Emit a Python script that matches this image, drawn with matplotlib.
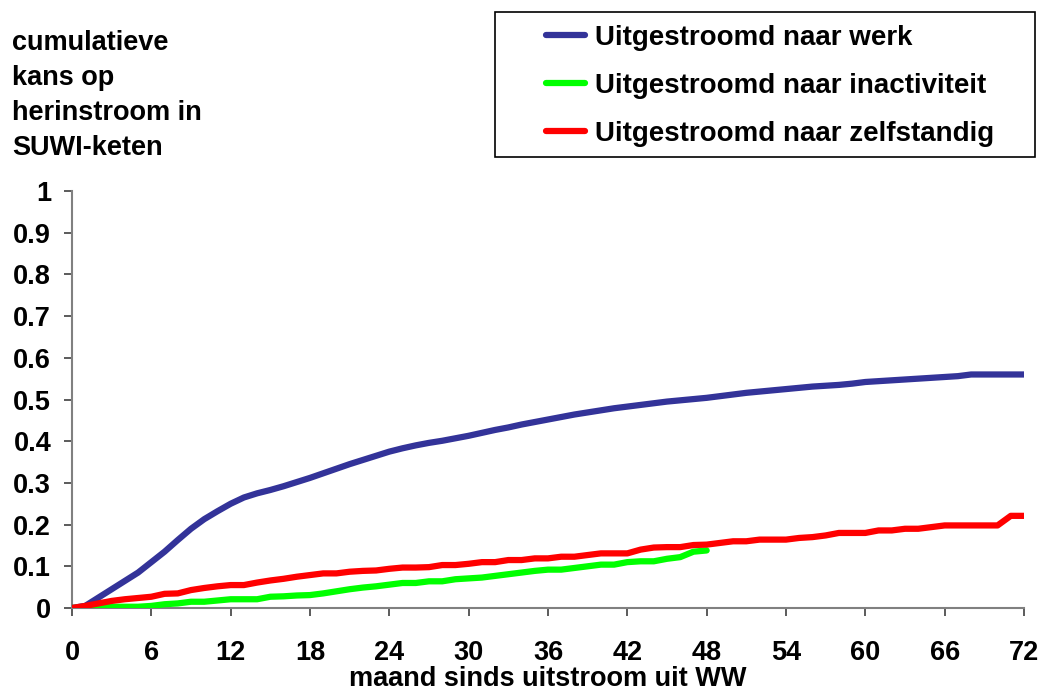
import numpy as np
import matplotlib.pyplot as plt
from matplotlib.patches import Rectangle

plt.rcParams['font.family'] = ['Liberation Sans', 'DejaVu Sans']
plt.rcParams['font.weight'] = 'bold'

# maand sinds uitstroom
months = np.arange(0, 73)
months_inact = np.arange(0, 49)

werk = [0, 0.005, 0.025, 0.045, 0.065, 0.085, 0.11, 0.135, 0.163, 0.19,
        0.213, 0.232, 0.25, 0.265, 0.275, 0.283, 0.292, 0.302, 0.312, 0.323,
        0.334, 0.345, 0.355, 0.365, 0.375, 0.383, 0.39, 0.396, 0.401, 0.407,
        0.413, 0.42, 0.427, 0.433, 0.44, 0.446, 0.452, 0.458, 0.464, 0.469,
        0.474, 0.479, 0.483, 0.487, 0.491, 0.495, 0.498, 0.501, 0.504, 0.508,
        0.512, 0.516, 0.519, 0.522, 0.525, 0.528, 0.531, 0.533, 0.535, 0.538,
        0.542, 0.544, 0.546, 0.548, 0.55, 0.552, 0.554, 0.556, 0.56, 0.56,
        0.56, 0.56, 0.56]

inactiviteit = [0, 0.001, 0.002, 0.003, 0.003, 0.003, 0.005, 0.009, 0.011, 0.015,
                0.015, 0.018, 0.021, 0.021, 0.021, 0.027, 0.028, 0.03, 0.031, 0.035,
                0.04, 0.045, 0.049, 0.052, 0.056, 0.06, 0.06, 0.064, 0.064, 0.069,
                0.071, 0.073, 0.077, 0.081, 0.085, 0.089, 0.092, 0.092, 0.096, 0.1,
                0.104, 0.104, 0.11, 0.112, 0.112, 0.118, 0.122, 0.135, 0.138]

zelfstandig = [0, 0.005, 0.011, 0.017, 0.021, 0.024, 0.027, 0.034, 0.035, 0.043,
               0.048, 0.052, 0.055, 0.055, 0.061, 0.066, 0.07, 0.075, 0.079, 0.083,
               0.083, 0.087, 0.089, 0.09, 0.094, 0.097, 0.097, 0.098, 0.103, 0.103,
               0.106, 0.11, 0.11, 0.115, 0.115, 0.119, 0.119, 0.123, 0.123, 0.127,
               0.131, 0.131, 0.131, 0.14, 0.145, 0.146, 0.146, 0.151, 0.152, 0.156,
               0.16, 0.16, 0.164, 0.164, 0.164, 0.168, 0.17, 0.174, 0.18, 0.18,
               0.18, 0.186, 0.186, 0.19, 0.19, 0.194, 0.198, 0.198, 0.198, 0.198,
               0.198, 0.221, 0.221]

x_ticks = np.arange(0, 73, 6)
y_ticks = np.round(np.arange(0, 1.01, 0.1), 1)
y_labels = ['0', '0.1', '0.2', '0.3', '0.4', '0.5', '0.6', '0.7', '0.8', '0.9', '1']

fig = plt.figure(figsize=(10.44, 6.9), dpi=100)
ax = fig.add_axes([72 / 1044, 1 - 608 / 690, 952 / 1044, 417 / 690])

ax.plot(months, werk, color='#333399', lw=4.5, label='Uitgestroomd naar werk',
        solid_capstyle='round', zorder=3)
ax.plot(months_inact, inactiviteit, color='#00ff00', lw=4.5,
        label='Uitgestroomd naar inactiviteit', solid_capstyle='round', zorder=3)
ax.plot(months, zelfstandig, color='#ff0000', lw=4.5,
        label='Uitgestroomd naar zelfstandig', solid_capstyle='round', zorder=3)

ax.set_xlim(0, 72)
ax.set_ylim(0, 1)
ax.set_xticks(x_ticks)
ax.set_yticks(y_ticks)
ax.set_yticklabels(y_labels)
for s in ['top', 'right']:
    ax.spines[s].set_visible(False)
for s in ['left', 'bottom']:
    ax.spines[s].set_color('#808080')
    ax.spines[s].set_linewidth(1.5)
ax.tick_params(axis='x', direction='out', length=6, width=1.2, color='#404040',
               labelsize=19.5, pad=17)
ax.tick_params(axis='y', direction='out', length=6, width=1.2, color='#404040',
               labelsize=19.5, pad=9)
for lbl in ax.get_xticklabels() + ax.get_yticklabels():
    lbl.set_fontweight('bold')

ax.set_xlabel('maand sinds uitstroom uit WW', fontsize=19.5, fontweight='bold',
              labelpad=0)

fig.text(12 / 1044, 1 - 30 / 690, 'cumulatieve\nkans op\nherinstroom in\nSUWI-keten',
         fontsize=19.5, fontweight='bold', va='top', ha='left', linespacing=1.45)

# legend box
fig.patches.append(Rectangle((495 / 1044, 1 - 157 / 690), 540 / 1044, 145 / 690,
                             transform=fig.transFigure, fill=False,
                             edgecolor='black', lw=1.2))
fig.legend(loc='center left', bbox_to_anchor=(546 / 1044, 1 - 86 / 690),
           frameon=False, handlelength=1.4, handletextpad=0.36,
           labelspacing=0.8, borderpad=0, borderaxespad=0,
           prop={'weight': 'bold', 'size': 20})

plt.savefig('out.png', dpi=100)
